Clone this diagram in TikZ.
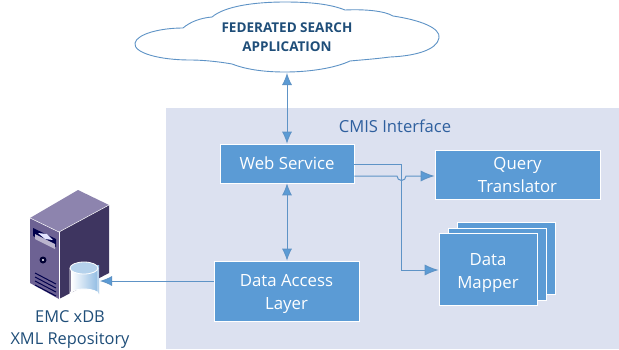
\documentclass[tikz,border=0pt]{standalone}
\usepackage{fontspec}
\setmainfont{Open Sans}
\usetikzlibrary{arrows.meta}
\definecolor{panelc}{HTML}{DCE1F0}
\definecolor{boxc}{HTML}{5B9BD5}
\definecolor{linec}{HTML}{5E93C6}
\definecolor{inkc}{HTML}{1F4E79}
\definecolor{titlec}{HTML}{2E5F9E}
\definecolor{srvtop}{HTML}{8D84AE}
\definecolor{srvfront}{HTML}{6D6293}
\definecolor{srvside}{HTML}{3E3560}
\newcommand{\lowerby}{\rule{0pt}{18.8pt}}
\tikzset{
  x=1pt,y=-1pt,
  bluebox/.style={fill=boxc,draw=white,line width=.6pt,text=white,font=\fontsize{16.8}{23}\selectfont,align=center,inner sep=0pt,minimum width=#1},
  conn/.style={draw=linec,line width=.9pt,-{Latex[length=12pt,width=10pt,fill=boxc]}},
  biconn/.style={draw=linec,line width=.9pt,{Latex[length=12pt,width=10pt,fill=boxc]}-{Latex[length=12pt,width=10pt,fill=boxc]}},
  thin conn/.style={draw=linec,line width=1pt,-{Latex[length=14pt,width=11pt,fill=boxc]}},
}
\begin{document}
\begin{tikzpicture}
\useasboundingbox (0,0) rectangle (619,349);
\fill[white] (0,0) rectangle (619,349);
\fill[panelc] (166,108) rectangle (619,349);
% cloud
\draw[fill=white,draw=linec,line width=.9pt]
 (135,43) .. controls (137,34) and (160,28) .. (183,28)
 .. controls (190,22) and (200,18) .. (212,17)
 .. controls (225,6) and (255,2) .. (285,2)
 .. controls (310,2) and (330,4) .. (345,10)
 .. controls (365,9) and (385,11) .. (393,16)
 .. controls (420,20) and (441,28) .. (439,38)
 .. controls (437,50) and (415,56) .. (390,57)
 .. controls (375,59) and (360,60) .. (350,61)
 .. controls (335,68) and (310,72) .. (285,72)
 .. controls (262,72) and (245,69) .. (232,64)
 .. controls (215,61) and (200,60) .. (190,60)
 .. controls (160,60) and (133,53) .. (135,43) -- cycle;
\node[font=\bfseries\fontsize{13.5}{19}\selectfont,text=inkc,align=center,inner sep=0pt] (cloud) at (287,37) {FEDERATED SEARCH\\APPLICATION};
\coordinate (cloudb) at (287,73);
\node[text=titlec,font=\fontsize{16.6}{17}\selectfont,inner sep=0pt] (title) at (395,126) {CMIS Interface};
% boxes
\node[bluebox=134pt,minimum height=39pt] (web) at (287,163.5) {Web Service};
\node[bluebox=165pt,minimum height=49pt] (query) at (517.5,174.5) {Query\\Translator};
\node[bluebox=145pt,minimum height=60pt] (dal) at (286.5,291) {\lowerby Data Access\\Layer};
\node[bluebox=98pt,minimum height=72pt] (m3) at (506,258.5) {};
\node[bluebox=98pt,minimum height=72pt] (m2) at (497,264) {};
\node[bluebox=98pt,minimum height=72pt] (mapper) at (488,269.5) {\lowerby Data\\Mapper};
% server
\fill[srvtop] (30,218) -- (78,190) -- (109,205) -- (59,232) -- cycle;
\fill[srvfront] (30,218) -- (59,232) -- (59,299) -- (30,283) -- cycle;
\fill[srvside] (59,232) -- (109,205) -- (109,273) -- (59,299) -- cycle;
\draw[white,line width=.5pt] (30,218) -- (59,232) -- (109,205);
\draw[white,line width=.5pt] (59,232) -- (59,299);
\fill[black!70!blue] (33,228) -- (56,239) -- (56,247) -- (33,236) -- cycle;
\fill[srvtop!60!white] (35,234) -- (55,244) -- (55,249) -- (35,239) -- cycle;
\fill[white!90!blue] (38,233) -- (47,234) -- (53,240) -- (45,239) -- cycle;
\fill[black!80!blue] (43,260) circle (3.5pt);
\fill[white] (43,260) circle (1.2pt);
\foreach \k in {0,1,2,3}{\draw[black!70!blue,line width=1pt] (35,273+4*\k) -- (56,284+4*\k);}
% database
\shade[left color=white,right color=boxc!70!white,middle color=boxc!35!white] (71,265) -- (71,294) arc[start angle=180,end angle=360,x radius=14,y radius=5] -- (99,265) -- cycle;
\draw[white,line width=.8pt,fill=boxc!45!white] (84,268) ellipse [x radius=14,y radius=6];
\draw[white,line width=.8pt] (70,268) -- (70,294) arc[start angle=180,end angle=360,x radius=14,y radius=5] -- (98,268);
\coordinate (db) at (100,281);
\node[text=inkc,font=\fontsize{16.4}{22}\selectfont,align=center,inner sep=0pt] (srvlabel) at (70,330) {EMC xDB\\XML Repository};
% connectors
\draw[biconn] (cloudb) -- (web.north);
\draw[biconn] (web.south) -- (web.south |- dal.north);
\draw[conn] (dal.west |- db) -- (db);
\coordinate (a) at (web.east |- 0,164);
\coordinate (b) at (web.east |- 0,176);
\draw[thin conn] (a) -- (401.5,164) -- (401.5,270) -- (mapper.west |- 0,270);
\draw[thin conn] (b) -- (397,176) arc[start angle=180,end angle=0,radius=4.5] -- (query.west |- 0,176);
\end{tikzpicture}
\end{document}
